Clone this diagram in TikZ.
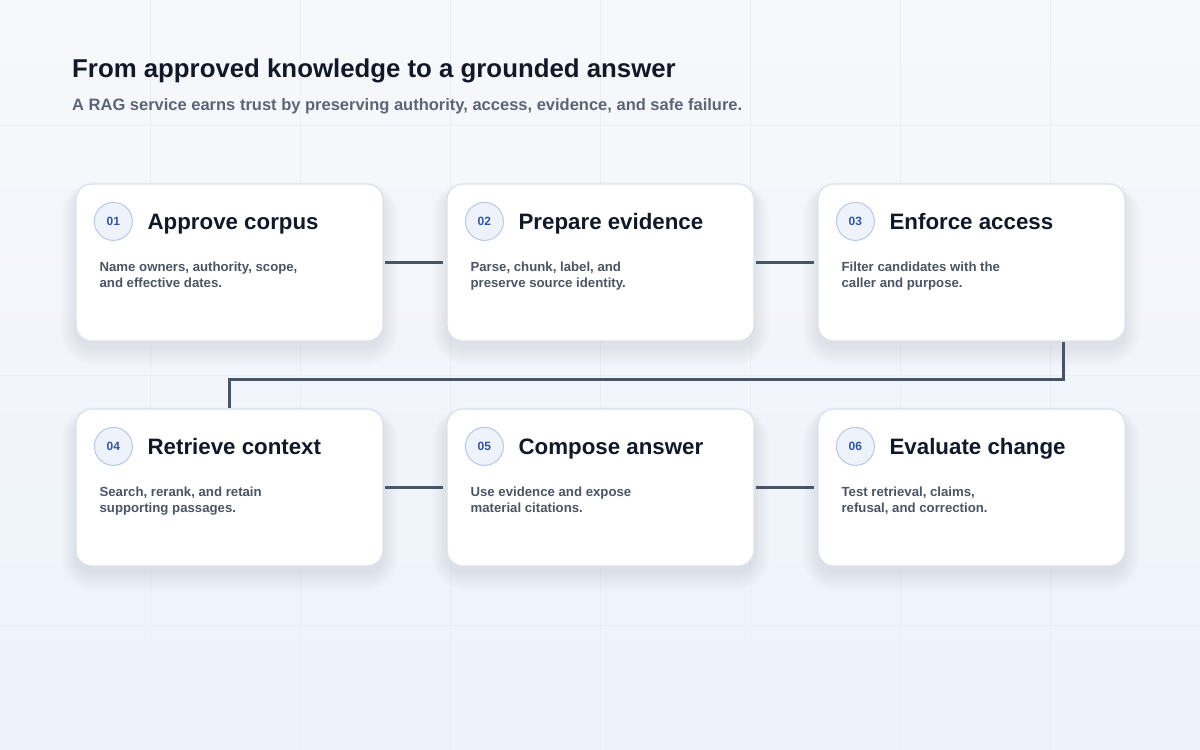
\documentclass[tikz,border=0pt]{standalone}
\usepackage{fontspec}
\setmainfont{Liberation Sans}
\usetikzlibrary{positioning,calc}
\definecolor{bgtop}{HTML}{F7F8FB}
\definecolor{bgbot}{HTML}{EDF2FB}
\definecolor{gridc}{HTML}{EBEEF4}
\definecolor{titlec}{HTML}{111827}
\definecolor{subc}{HTML}{5B6577}
\definecolor{bodyc}{HTML}{4B5563}
\definecolor{cardborder}{HTML}{DCE2EB}
\definecolor{badgefill}{HTML}{EEF3FB}
\definecolor{badgeborder}{HTML}{B8C8E6}
\definecolor{badgetext}{HTML}{2F55A4}
\definecolor{linkc}{HTML}{475569}
\definecolor{shadowc}{HTML}{1E293B}
\tikzset{
  card/.style={draw=cardborder, line width=1.2pt, fill=white, rounded corners=16pt,
    minimum width=307pt, minimum height=157pt, inner sep=0pt},
  badge/.style={circle, draw=badgeborder, line width=1pt, fill=badgefill, minimum size=38pt,
    inner sep=0pt, text=badgetext, font=\fontsize{12}{14}\selectfont\bfseries},
  cardtitle/.style={anchor=base west, text=titlec, inner sep=0pt, font=\fontsize{22.3}{26}\selectfont\bfseries},
  cardbody/.style={anchor=north west, align=left, text=bodyc, inner sep=0pt, font=\fontsize{13.2}{16}\selectfont\bfseries},
  link/.style={draw=linkc, line width=3pt},
  shadowlayer/.style={fill=shadowc, fill opacity=0.009}
}
\begin{document}
\begin{tikzpicture}[x=1pt,y=-1pt]
\useasboundingbox (0,0) rectangle (1200,750);
\shade[top color=bgtop, bottom color=bgbot] (0,0) rectangle (1200,750);
\foreach \gx in {150,300,...,1050} \draw[gridc, line width=0.8pt] (\gx,0) -- (\gx,750);
\foreach \gy in {125,375,625} \draw[gridc, line width=0.8pt] (0,\gy) -- (1200,\gy);

\node[anchor=base west, inner sep=0pt, text=titlec, font=\fontsize{25.8}{30}\selectfont\bfseries] (title) at (72,77) {From approved knowledge to a grounded answer};
\node[anchor=base west, inner sep=0pt, text=subc, font=\fontsize{16.5}{19}\selectfont\bfseries] (subtitle) at (72,110) {A RAG service earns trust by preserving authority, access, evidence, and safe failure.};

% soft shadows
\foreach \cx/\cy in {229.5/262.5,600.5/262.5,971.5/262.5,229.5/487.5,600.5/487.5,971.5/487.5} {
  \foreach \r in {1,3,...,19} {
    \fill[shadowlayer, rounded corners=16pt+\r pt] (\cx-153.5-\r*0.8,\cy-78.5-\r*0.5+7) rectangle (\cx+153.5+\r*0.8,\cy+78.5+\r+6);
  }
}

% cards
\node[card] (c1) at (229.5,262.5) {};
\node[card] (c2) at (600.5,262.5) {};
\node[card] (c3) at (971.5,262.5) {};
\node[card] (c4) at (229.5,487.5) {};
\node[card] (c5) at (600.5,487.5) {};
\node[card] (c6) at (971.5,487.5) {};

\foreach \c/\n/\t/\b in {
  c1/01/Approve corpus/{Name owners, authority, scope,\\and effective dates.},
  c2/02/Prepare evidence/{Parse, chunk, label, and\\preserve source identity.},
  c3/03/Enforce access/{Filter candidates with the\\caller and purpose.},
  c4/04/Retrieve context/{Search, rerank, and retain\\supporting passages.},
  c5/05/Compose answer/{Use evidence and expose\\material citations.},
  c6/06/Evaluate change/{Test retrieval, claims,\\refusal, and correction.}} {
  \node[badge] (\c b) at ($(\c.north west)+(38,38)$) {\n};
  \node[cardtitle] (\c t) at ($(\c.north west)+(72,46)$) {\t};
  \node[cardbody] (\c d) at ($(\c.north west)+(24,78)$) {\b};
}

% connectors
\draw[link] ([xshift=1pt]c1.east) -- ([xshift=-3pt]c2.west);
\draw[link] ([xshift=1pt]c2.east) -- ([xshift=-3pt]c3.west);
\draw[link] ([xshift=1pt]c4.east) -- ([xshift=-3pt]c5.west);
\draw[link] ([xshift=1pt]c5.east) -- ([xshift=-3pt]c6.west);
\coordinate (turn) at ($(c3.south east)+(-62,0)$);
\draw[link] (turn) -- ++(0,38) -| (c4.north);
\end{tikzpicture}
\end{document}
